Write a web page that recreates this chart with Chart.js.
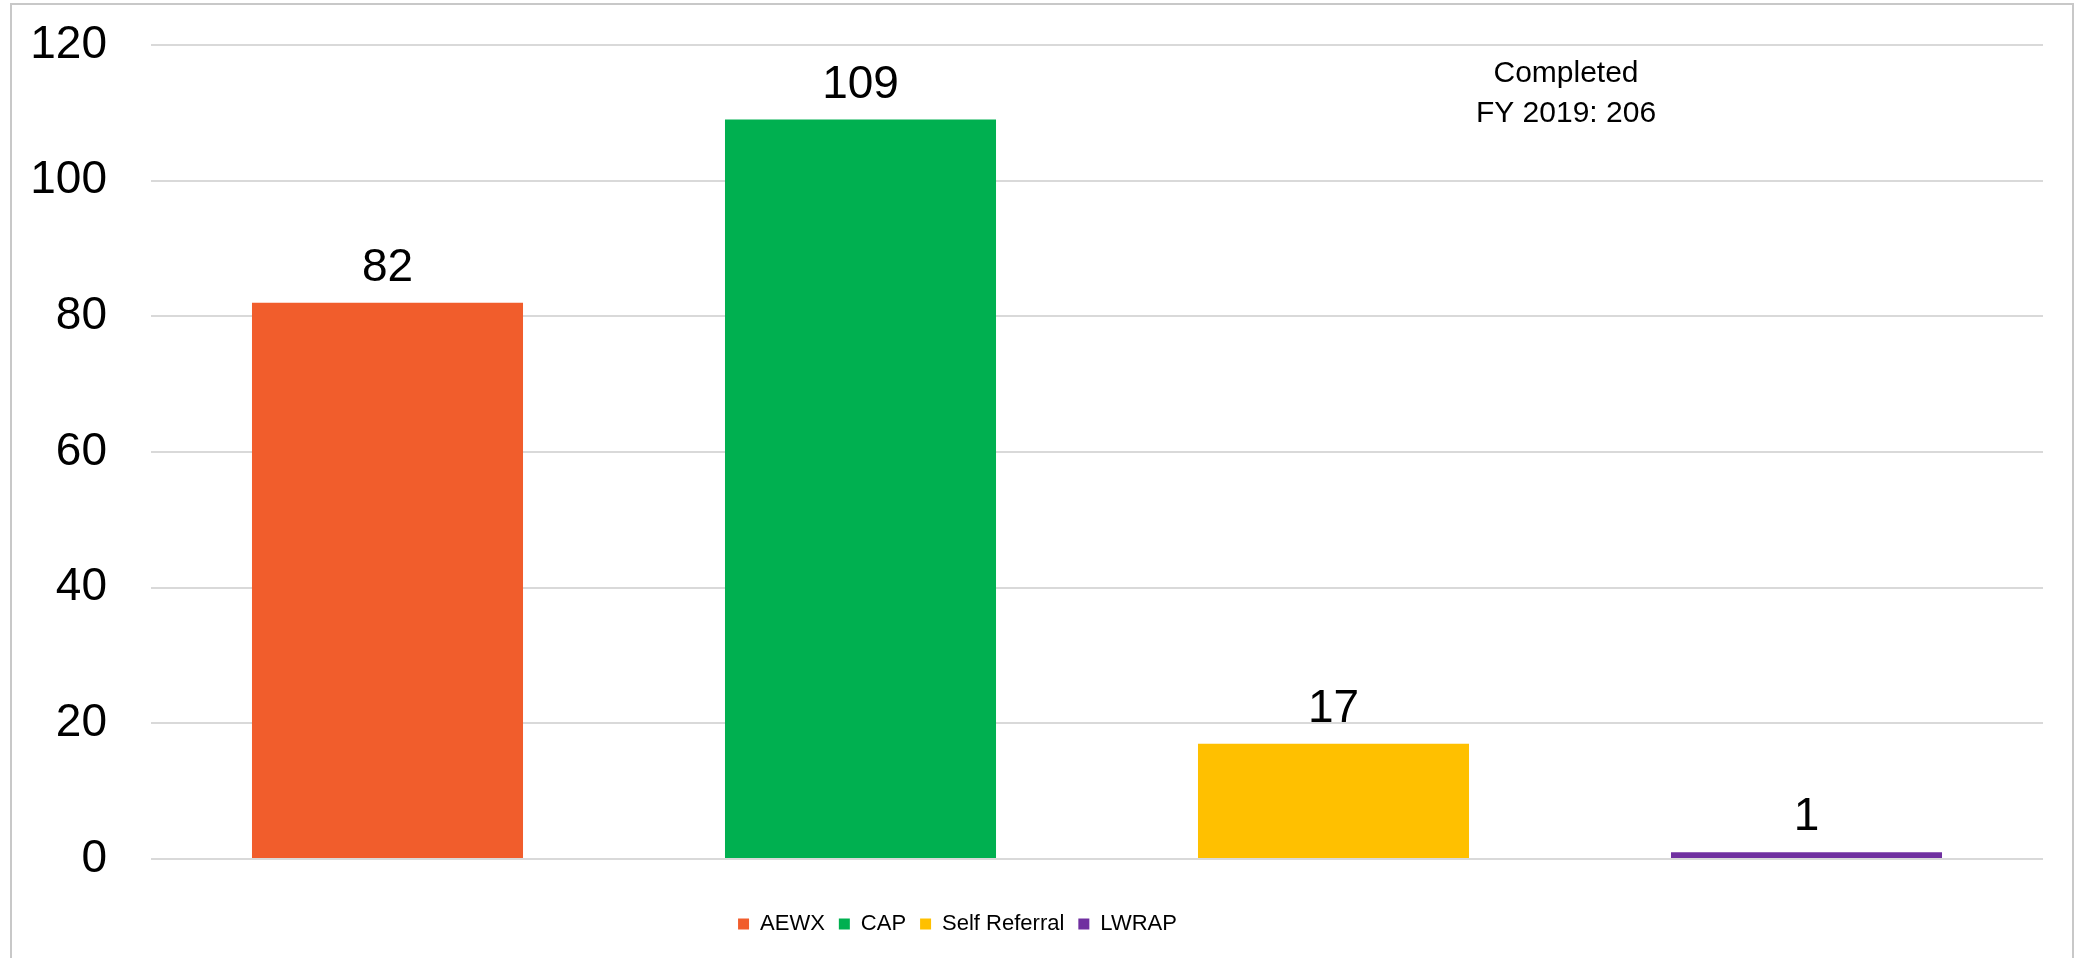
<!DOCTYPE html>
<html>
<head>
<meta charset="utf-8">
<title>Completed FY 2019</title>
<script src="https://cdn.jsdelivr.net/npm/chart.js@4/dist/chart.umd.min.js"></script>
<style>
    body { margin: 0; background: #ffffff; }
    #frame {
        position: absolute;
        left: 10px; top: 3px;
        width: 2060px; height: 1000px;
        border: 2px solid #c8c8c8;
    }
    #wrap { position: absolute; left: 0; top: 0; width: 2075px; height: 958px; }
</style>
</head>
<body>
<div id="frame"></div>
<div id="wrap"><canvas id="chart-referrals"></canvas></div>
<script>
// datos del grafico
const categorias = ['AEWX', 'CAP', 'Self Referral', 'LWRAP'];
const completados = [82, 109, 17, 1];
const colores = ['#F15D2C', '#00B050', '#FFC000', '#7030A0'];
const yTicks = [0, 20, 40, 60, 80, 100, 120];
const notaLineas = ['Completed', 'FY 2019: 206'];

const fuente = "'Liberation Sans', Arial, sans-serif";

// etiquetas de valor encima de cada barra + nota de total
const etiquetasPlugin = {
    id: 'etiquetas',
    afterDatasetsDraw(chart) {
        const ctx = chart.ctx;
        const meta = chart.getDatasetMeta(0);
        ctx.save();
        ctx.fillStyle = '#000000';
        ctx.font = `46px ${fuente}`;
        ctx.textAlign = 'center';
        ctx.textBaseline = 'alphabetic';
        meta.data.forEach((bar, i) => {
            ctx.fillText(completados[i], bar.x, bar.y - 22);
        });

        // nota entre la 3a y 4a categoria
        const xNota = chart.scales.x.getPixelForValue(2.5) - 4;
        ctx.font = `30px ${fuente}`;
        notaLineas.forEach((linea, i) => {
            ctx.fillText(linea, xNota, chart.chartArea.top + 37 + i * 40);
        });
        ctx.restore();
    },
    afterLayout(chart) {
        // mover la leyenda un poco a la izquierda como en el original
        chart.legend.left -= 64;
        chart.legend.right -= 64;
    }
};

const ctxChart = document.getElementById('chart-referrals').getContext('2d');

const chartReferrals = new Chart(ctxChart, {
    type: 'bar',
    data: {
        labels: categorias,
        datasets: [{
            label: 'Completed',
            data: completados,
            backgroundColor: colores,
            borderWidth: 0,
            barPercentage: 0.573,
            categoryPercentage: 1
        }]
    },
    options: {
        responsive: true,
        maintainAspectRatio: false,
        animation: false,
        layout: {
            padding: { left: 0, right: 32, top: 45, bottom: 13 }
        },
        plugins: {
            tooltip: { enabled: false },
            legend: {
                position: 'bottom',
                labels: {
                    boxWidth: 11,
                    boxHeight: 11,
                    padding: 14,
                    color: '#000000',
                    font: { family: fuente, size: 22 },
                    generateLabels: () => categorias.map((cat, i) => ({
                        text: cat,
                        fillStyle: colores[i],
                        strokeStyle: colores[i],
                        lineWidth: 0,
                        hidden: false,
                        index: i
                    }))
                },
                onClick: () => {}
            }
        },
        scales: {
            x: {
                ticks: { display: false },
                grid: { display: false },
                border: { display: false },
                afterFit: scale => { scale.height = 40; }
            },
            y: {
                min: 0,
                max: 120,
                afterBuildTicks: scale => {
                    scale.ticks = yTicks.map(v => ({ value: v }));
                },
                afterFit: scale => { scale.width = 151; },
                ticks: {
                    color: '#000000',
                    padding: 0,
                    font: { family: fuente, size: 46 }
                },
                grid: {
                    color: '#d9d9d9',
                    lineWidth: 2,
                    drawTicks: true,
                    tickLength: 44,
                    tickColor: 'rgba(0,0,0,0)'
                },
                border: { display: false }
            }
        }
    },
    plugins: [etiquetasPlugin]
});
</script>
</body>
</html>
